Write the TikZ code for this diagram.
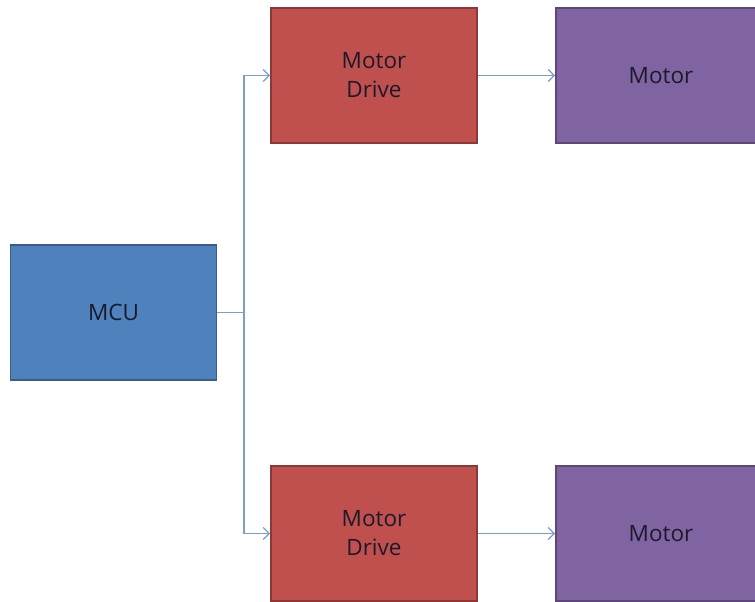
\documentclass[tikz,border=0pt]{standalone}
\usepackage{fontspec}
\setmainfont{Open Sans}
\usetikzlibrary{arrows.meta}
\definecolor{mcufill}{HTML}{4F81BD}
\definecolor{mculine}{HTML}{385D8A}
\definecolor{drvfill}{HTML}{C0504D}
\definecolor{drvline}{HTML}{8C3836}
\definecolor{motfill}{HTML}{8064A2}
\definecolor{motline}{HTML}{5C4776}
\definecolor{conn}{HTML}{7F9CC8}
\definecolor{txt}{HTML}{1A1A2A}
\tikzset{
  blockbox/.style={rectangle, minimum width=206pt, minimum height=135pt, line width=1.8pt, inner sep=0pt,
    align=center, text=txt, font=\fontsize{22.5pt}{29pt}\selectfont},
  mcubox/.style={blockbox, fill=mcufill, draw=mculine},
  drvbox/.style={blockbox, fill=drvfill, draw=drvline},
  motbox/.style={blockbox, fill=motfill, draw=motline, minimum width=210pt},
  link/.style={draw=conn, line width=1.3pt},
  arrowlink/.style={link, -{Straight Barb[length=6pt,width=12pt,line width=1.3pt]}}
}
\begin{document}
\begin{tikzpicture}[x=1pt,y=-1pt]
\useasboundingbox (0,0) rectangle (755,602);
\clip (0,0) rectangle (755,602);
\fill[white] (0,0) rectangle (755,602);
\node[mcubox] (mcu) at (113.5,312.5) {MCU};
\node[drvbox] (drv1) at (374,75.5) {Motor\\Drive};
\node[drvbox] (drv2) at (374,533.5) {Motor\\Drive};
\node[motbox] (mot1) at (661,75.5) {Motor};
\node[motbox] (mot2) at (661,533.5) {Motor};
\coordinate (split) at (244,312.5);
\draw[link] (mcu.east) -- (split);
\draw[arrowlink] (split) |- (drv1.west);
\draw[arrowlink] (split) |- (drv2.west);
\draw[arrowlink] (drv1.east) -- (mot1.west);
\draw[arrowlink] (drv2.east) -- (mot2.west);
\end{tikzpicture}
\end{document}
